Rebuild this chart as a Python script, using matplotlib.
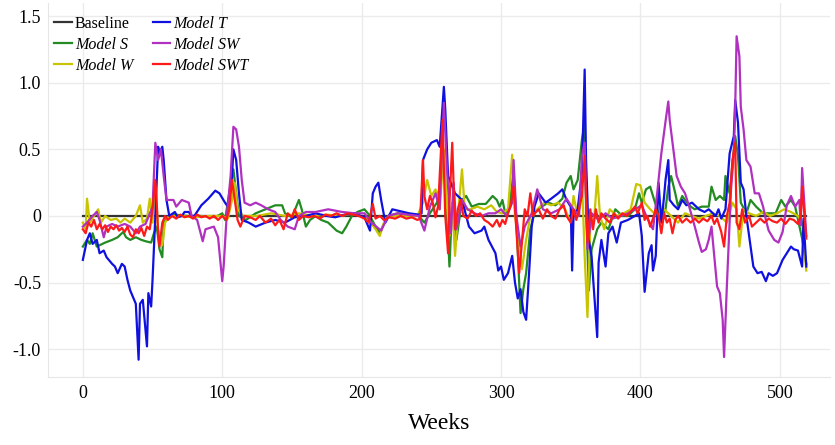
import matplotlib
matplotlib.use("Agg")
import matplotlib.pyplot as plt

plt.rcParams['font.family'] = ['Liberation Serif', 'DejaVu Serif']
plt.rcParams['axes.unicode_minus'] = False

# (week, value)
baseline = [(0, 0.0), (519, 0.0)]

model_s = [(0, -0.23), (3, -0.18), (5, -0.21), (7, -0.13), (10, -0.23), (12, -0.22), (16, -0.20), (21, -0.18),
           (25, -0.16), (29, -0.12), (31, -0.16), (34, -0.18), (38, -0.16), (42, -0.18), (45, -0.19), (49, -0.20),
           (51, -0.13), (53, -0.08), (55, -0.25), (57, -0.31), (58, -0.05), (62, 0.0), (66, 0.01), (75, 0.0),
           (85, 0.0), (95, -0.01), (100, 0.02), (102, -0.03), (105, 0.17), (108, 0.35), (110, 0.17), (112, 0.0),
           (117, -0.03), (124, 0.02), (131, 0.05), (138, 0.08), (143, 0.08), (145, 0.02), (150, -0.01), (155, 0.12),
           (157, 0.05), (160, -0.08), (163, -0.03), (167, 0.0), (171, -0.03), (176, -0.05), (182, -0.11), (186, -0.13),
           (189, -0.08), (193, 0.0), (197, 0.03), (202, 0.05), (206, 0.0), (210, -0.08), (213, -0.13), (215, -0.08),
           (219, 0.0), (226, 0.02), (233, 0.01), (241, 0.0), (245, -0.05), (249, 0.02), (254, 0.10), (259, 0.42),
           (261, 0.05), (263, -0.38), (265, 0.10), (268, -0.18), (272, 0.12), (275, 0.15), (279, 0.07), (284, 0.09),
           (289, 0.09), (294, 0.15), (297, 0.12), (299, 0.07), (301, 0.12), (303, 0.02), (306, 0.07), (309, 0.32),
           (311, -0.03), (314, -0.73), (316, -0.55), (318, -0.43), (321, -0.10), (324, 0.02), (329, 0.07), (334, 0.10),
           (339, 0.08), (344, 0.13), (347, 0.25), (350, 0.30), (352, 0.20), (355, 0.27), (358, 0.57), (360, 0.70),
           (361, 0.05), (363, -0.56), (365, -0.25), (369, -0.10), (372, -0.05), (377, -0.10), (382, 0.05), (387, 0.0),
           (391, 0.0), (396, 0.05), (399, 0.17), (401, 0.10), (404, 0.20), (407, 0.22), (409, 0.15), (412, 0.05),
           (415, -0.03), (418, 0.05), (420, 0.22), (422, 0.30), (425, 0.17), (427, 0.07), (430, 0.15), (432, 0.12),
           (436, 0.07), (439, 0.05), (444, 0.07), (449, 0.07), (451, 0.22), (454, 0.12), (457, 0.15), (460, 0.12),
           (461, 0.30), (464, 0.17), (468, 0.60), (470, 0.45), (472, 0.10), (476, 0.02), (479, 0.12), (483, 0.07),
           (488, 0.02), (492, 0.02), (497, 0.02), (501, 0.12), (504, 0.07), (508, 0.12), (511, 0.07), (516, -0.17),
           (519, -0.36)]

model_w = [(0, -0.05), (2, -0.10), (3, 0.13), (5, -0.05), (8, 0.0), (11, 0.05), (13, -0.05), (16, 0.0),
           (20, -0.03), (24, -0.02), (27, -0.05), (30, -0.02), (34, -0.05), (38, 0.0), (41, 0.08), (43, -0.05),
           (46, -0.02), (48, 0.13), (50, -0.05), (52, 0.25), (54, -0.10), (57, -0.22), (59, -0.05), (62, 0.0),
           (70, 0.0), (80, -0.01), (90, 0.0), (100, 0.0), (104, -0.02), (107, 0.12), (109, 0.25), (111, 0.05),
           (115, 0.0), (125, 0.0), (135, 0.02), (145, 0.0), (155, 0.02), (165, 0.0), (175, 0.01), (185, 0.0),
           (195, 0.02), (205, -0.03), (210, -0.10), (213, -0.15), (216, -0.05), (220, 0.0), (230, 0.0), (240, 0.0),
           (244, 0.10), (247, 0.27), (250, 0.15), (253, 0.20), (256, 0.05), (259, 0.50), (261, 0.10), (263, -0.15),
           (265, 0.10), (267, -0.30), (269, 0.0), (272, 0.35), (274, 0.05), (278, 0.05), (283, 0.07), (288, 0.05),
           (293, 0.08), (297, 0.03), (301, 0.02), (305, 0.05), (308, 0.46), (310, 0.0), (313, -0.20), (315, -0.40),
           (318, -0.18), (321, 0.0), (326, 0.05), (331, 0.10), (336, 0.08), (341, 0.10), (346, 0.05), (350, -0.05),
           (352, 0.15), (355, 0.0), (358, 0.30), (360, -0.30), (362, -0.76), (364, -0.10), (367, 0.0), (369, 0.30),
           (371, 0.0), (374, -0.10), (378, 0.05), (383, 0.0), (388, 0.02), (393, 0.05), (397, 0.24), (400, 0.23),
           (403, 0.10), (407, 0.05), (412, 0.0), (417, 0.05), (422, 0.0), (427, -0.05), (432, 0.02), (437, 0.0),
           (442, -0.02), (447, 0.0), (452, 0.02), (457, 0.0), (462, -0.05), (466, 0.10), (469, 0.05), (471, -0.23),
           (474, 0.05), (478, 0.02), (483, 0.0), (488, 0.03), (493, 0.0), (498, 0.02), (503, 0.05), (508, 0.03),
           (513, 0.0), (516, -0.05), (519, -0.41)]

model_t = [(0, -0.33), (3, -0.18), (5, -0.13), (7, -0.21), (10, -0.18), (12, -0.28), (15, -0.26), (17, -0.31),
           (21, -0.36), (23, -0.38), (25, -0.43), (28, -0.36), (30, -0.38), (32, -0.48), (34, -0.56), (36, -0.61),
           (38, -0.66), (40, -1.08), (41, -0.66), (43, -0.63), (46, -0.98), (47, -0.58), (49, -0.68), (50, -0.48),
           (52, 0.0), (54, 0.52), (55, 0.47), (57, 0.52), (58, 0.42), (60, 0.12), (62, 0.0), (66, 0.03),
           (68, -0.01), (71, 0.0), (73, 0.03), (76, 0.03), (78, 0.0), (80, 0.0), (85, 0.08), (90, 0.13),
           (95, 0.19), (98, 0.17), (102, 0.10), (104, 0.07), (107, 0.30), (108, 0.50), (110, 0.42), (112, 0.17),
           (114, -0.03), (119, -0.05), (124, -0.08), (131, -0.05), (138, -0.03), (145, -0.05), (152, -0.01), (160, 0.0),
           (167, 0.02), (175, 0.0), (181, -0.01), (188, 0.01), (195, 0.02), (202, -0.01), (206, -0.11), (208, 0.17),
           (210, 0.22), (212, 0.25), (214, 0.12), (217, -0.05), (222, 0.05), (226, 0.04), (234, 0.02), (241, 0.01),
           (243, 0.02), (244, 0.42), (247, 0.50), (250, 0.55), (254, 0.57), (256, 0.52), (259, 0.97), (260, 0.80),
           (262, 0.30), (267, 0.17), (272, 0.12), (277, -0.08), (281, -0.13), (286, -0.11), (288, -0.08), (291, -0.18),
           (296, -0.28), (298, -0.41), (300, -0.38), (302, -0.48), (305, -0.43), (308, -0.30), (310, -0.50), (312, -0.62),
           (314, -0.55), (316, -0.72), (318, -0.78), (320, -0.45), (322, -0.08), (324, 0.07), (327, 0.17), (332, 0.10),
           (336, 0.13), (341, 0.17), (344, 0.20), (347, 0.12), (350, 0.07), (351, -0.41), (352, 0.0), (355, 0.05),
           (358, 0.32), (360, 1.10), (361, 0.42), (363, -0.18), (365, -0.31), (369, -0.91), (370, -0.35), (372, -0.18),
           (375, -0.38), (377, -0.13), (380, -0.08), (383, -0.20), (386, -0.05), (391, -0.03), (396, 0.0), (399, 0.02),
           (401, -0.15), (403, -0.57), (406, -0.28), (408, -0.22), (409, -0.41), (411, -0.30), (413, 0.25), (415, -0.05),
           (417, 0.15), (418, 0.27), (420, 0.42), (421, 0.12), (424, 0.08), (427, 0.05), (430, 0.12), (433, 0.08),
           (437, 0.10), (442, 0.05), (446, 0.03), (449, 0.05), (454, 0.0), (456, 0.05), (458, -0.02), (461, 0.05),
           (464, 0.47), (467, 0.60), (468, 0.87), (470, 0.70), (472, 0.25), (474, 0.20), (476, 0.0), (479, -0.23),
           (481, -0.38), (484, -0.43), (487, -0.42), (490, -0.49), (492, -0.43), (495, -0.45), (498, -0.43), (502, -0.33),
           (505, -0.28), (508, -0.23), (510, -0.25), (513, -0.26), (516, -0.38), (517, -0.02), (519, -0.38)]

model_sw = [(0, -0.08), (3, -0.05), (7, 0.0), (10, 0.03), (12, -0.03), (15, -0.16), (17, -0.08), (21, -0.06),
            (25, -0.08), (30, -0.06), (34, -0.08), (38, -0.13), (41, -0.08), (45, -0.06), (50, 0.07), (52, 0.55),
            (54, 0.42), (56, 0.50), (58, 0.30), (60, 0.12), (65, 0.12), (67, 0.07), (71, 0.12), (76, 0.10),
            (78, 0.0), (82, -0.03), (86, -0.19), (88, -0.10), (94, -0.08), (97, -0.16), (100, -0.49), (101, -0.38),
            (103, -0.03), (106, 0.30), (108, 0.67), (110, 0.65), (112, 0.52), (114, 0.27), (116, 0.10), (120, 0.08),
            (124, 0.10), (128, 0.08), (133, 0.05), (138, 0.03), (142, -0.03), (147, -0.08), (152, -0.10), (155, 0.0),
            (160, 0.03), (167, 0.03), (176, 0.05), (186, 0.03), (195, 0.02), (202, 0.02), (207, -0.05), (214, -0.11),
            (219, 0.0), (226, 0.02), (233, 0.01), (241, 0.0), (245, -0.11), (249, 0.07), (253, 0.17), (256, 0.05),
            (259, 0.85), (261, 0.40), (264, -0.13), (266, 0.25), (268, -0.10), (272, 0.12), (276, 0.05), (281, 0.02),
            (286, 0.0), (291, 0.02), (296, 0.02), (300, 0.05), (304, 0.0), (308, 0.10), (309, 0.42), (311, 0.0),
            (314, -0.23), (317, -0.08), (322, 0.02), (326, 0.20), (330, 0.05), (336, 0.02), (342, 0.05), (347, 0.13),
            (352, 0.05), (356, 0.0), (358, 0.45), (360, 0.55), (362, -0.25), (365, 0.02), (370, -0.03), (375, 0.02),
            (380, -0.02), (386, 0.0), (391, 0.02), (396, 0.05), (401, 0.08), (405, -0.02), (409, -0.10), (412, 0.17),
            (415, 0.47), (418, 0.71), (420, 0.86), (421, 0.72), (424, 0.47), (426, 0.30), (429, 0.22), (432, 0.17),
            (435, 0.07), (439, -0.08), (442, -0.20), (444, -0.27), (447, -0.25), (449, -0.18), (451, -0.08), (455, -0.53),
            (457, -0.58), (459, -0.78), (460, -1.06), (462, -0.53), (465, 0.20), (467, 0.47), (468, 0.82), (469, 1.35),
            (471, 1.20), (472, 0.82), (474, 0.65), (476, 0.42), (479, 0.37), (482, 0.17), (485, 0.17), (488, 0.07),
            (490, -0.03), (492, -0.11), (496, -0.18), (499, -0.20), (502, -0.12), (505, 0.08), (508, 0.15), (511, 0.07),
            (514, 0.12), (515, -0.07), (516, 0.36), (519, -0.15)]

model_swt = [(0, -0.10), (2, -0.13), (4, -0.05), (6, -0.08), (8, -0.03), (10, -0.10), (12, -0.06), (14, -0.10),
             (16, -0.07), (18, -0.12), (20, -0.08), (22, -0.10), (24, -0.07), (26, -0.11), (28, -0.09), (30, -0.12),
             (32, -0.08), (34, -0.14), (36, -0.16), (38, -0.10), (40, -0.13), (42, -0.09), (44, -0.15), (46, -0.08),
             (48, -0.10), (50, 0.05), (52, 0.27), (53, 0.10), (54, -0.13), (55, -0.23), (57, -0.05), (59, 0.0),
             (61, -0.03), (64, 0.0), (67, -0.02), (70, 0.01), (73, -0.01), (76, 0.0), (79, -0.02), (82, 0.01),
             (85, -0.01), (88, 0.0), (91, -0.02), (94, 0.0), (97, -0.03), (100, 0.0), (103, -0.03), (105, 0.05),
             (107, 0.27), (109, 0.12), (111, -0.03), (113, -0.08), (116, 0.0), (120, -0.01), (124, -0.03), (127, 0.0),
             (131, -0.05), (135, -0.02), (138, -0.07), (141, -0.03), (144, -0.10), (147, 0.02), (150, -0.01), (152, 0.05),
             (155, -0.03), (158, 0.0), (162, -0.01), (166, 0.0), (170, -0.02), (174, 0.01), (178, 0.0), (182, 0.02),
             (186, 0.0), (190, 0.02), (194, 0.01), (198, 0.0), (202, -0.02), (205, -0.05), (208, 0.09), (210, -0.02),
             (213, 0.0), (216, -0.03), (220, -0.01), (224, -0.02), (228, 0.0), (232, -0.02), (236, -0.01), (240, -0.03),
             (242, -0.02), (244, 0.42), (245, 0.15), (247, 0.05), (249, 0.15), (251, 0.10), (253, -0.01), (255, 0.08),
             (256, 0.30), (258, 0.72), (260, 0.0), (262, -0.28), (263, 0.10), (265, 0.55), (267, -0.10), (269, 0.05),
             (271, 0.12), (273, 0.0), (276, -0.02), (279, 0.04), (282, 0.0), (285, 0.02), (288, -0.03), (291, -0.05),
             (294, -0.08), (297, -0.03), (299, -0.08), (301, -0.03), (303, -0.06), (305, 0.02), (307, 0.08), (309, 0.22),
             (311, -0.10), (313, -0.43), (315, -0.20), (317, 0.05), (319, 0.0), (321, 0.17), (323, 0.0), (325, 0.03),
             (327, 0.05), (330, -0.02), (333, 0.05), (336, 0.0), (339, -0.02), (342, 0.05), (345, 0.08), (347, 0.0),
             (350, -0.05), (352, 0.05), (354, -0.03), (356, 0.05), (358, 0.15), (360, 0.45), (362, -0.20), (364, 0.05),
             (366, -0.10), (368, 0.05), (370, -0.05), (372, 0.02), (375, -0.02), (378, -0.05), (381, 0.02), (384, -0.02),
             (387, 0.02), (390, 0.0), (393, 0.03), (396, 0.07), (398, 0.02), (401, 0.10), (403, -0.03), (405, 0.0),
             (407, -0.08), (409, -0.02), (411, 0.05), (413, 0.0), (415, -0.13), (417, 0.02), (419, -0.05), (421, -0.02),
             (423, -0.13), (425, -0.03), (427, 0.0), (430, -0.05), (433, -0.02), (436, -0.05), (439, -0.02), (442, -0.05),
             (445, -0.02), (448, -0.04), (451, 0.0), (453, -0.06), (455, -0.02), (458, -0.12), (460, -0.23), (462, 0.0),
             (464, 0.10), (466, 0.42), (468, 0.55), (469, -0.05), (471, -0.10), (473, 0.05), (475, -0.05), (478, 0.0),
             (480, -0.08), (483, -0.05), (486, -0.02), (489, -0.05), (492, -0.02), (495, -0.04), (498, -0.05), (501, -0.02),
             (504, -0.06), (507, -0.02), (510, -0.03), (513, -0.06), (515, 0.0), (516, 0.22), (519, -0.17)]

series = [("Baseline", baseline, "#333333", "normal"),
          ("Model S", model_s, "#228b22", "italic"),
          ("Model W", model_w, "#c8c400", "italic"),
          ("Model T", model_t, "#1010e0", "italic"),
          ("Model SW", model_sw, "#b030c0", "italic"),
          ("Model SWT", model_swt, "#ff1a1a", "italic")]

fig = plt.figure(figsize=(8.35, 4.45), dpi=100)
ax = fig.add_axes([48 / 835, 68 / 445, 782 / 835, 374 / 445])

lines = []
for name, data, color, style in series:
    wk, val = zip(*data)
    ln, = ax.plot(wk, val, color=color, lw=1.6, label=name)
    lines.append(ln)

ax.set_xlim(-25, 536)
ax.set_ylim(-1.21, 1.6)
ax.set_xticks([0, 100, 200, 300, 400, 500])
ax.set_yticks([-1.0, -0.5, 0, 0.5, 1.0, 1.5])
ax.set_yticklabels(["-1.0", "-0.5", "0", "0.5", "1.0", "1.5"])
ax.tick_params(length=0, labelsize=13)
ax.tick_params(axis='x', pad=6)
ax.tick_params(axis='y', pad=5)
ax.grid(True, color="#ebebeb", lw=1)
ax.set_axisbelow(True)
for side in ["top", "right"]:
    ax.spines[side].set_visible(False)
for side in ["left", "bottom"]:
    ax.spines[side].set_color("#e6e6e6")
ax.set_xlabel("Weeks", fontsize=17, labelpad=8)

leg = ax.legend(loc="upper left", bbox_to_anchor=(0.008, 0.965), ncol=2, frameon=False,
                fontsize=11.5, handlelength=1.1, handletextpad=0.2, columnspacing=1.2,
                labelspacing=0.3, borderpad=0, borderaxespad=0)
for txt, (name, data, color, style) in zip(leg.get_texts(), series):
    txt.set_fontstyle(style)

fig.savefig("out.png", dpi=100)
